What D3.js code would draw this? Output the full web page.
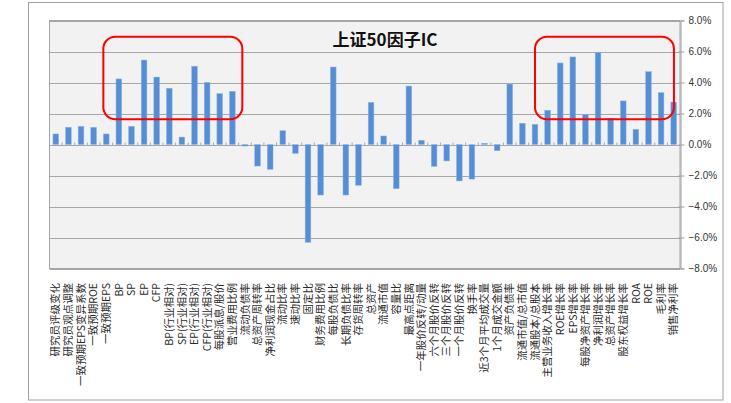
<!DOCTYPE html>
<html><head><meta charset="utf-8">
<script src="https://cdn.jsdelivr.net/npm/d3@7"></script>
<style>body{margin:0;background:#fff}svg{display:block}</style>
</head><body>
<svg id="c" width="731" height="403"></svg>
<script>
const categories = ["研究员评级变化","研究员观点调整","一致预期EPS变异系数","一致预期ROE","一致预期EPS","BP","SP","EP","CFP","BP(行业相对)","SP(行业相对)","EP(行业相对)","CFP(行业相对)","每股派息/股价","营业费用比例","流动负债率","总资产周转率","净利润现金占比","流动比率","速动比率","固定比","财务费用比例","每股负债比","长期负债比率","存货周转率","总资产","流通市值","容量比","最高点距离","一年股价反转/动量","六个月股价反转","三个月股价反转","一个月股价反转","换手率","近3个月平均成交量","1个月成交金额","资产负债率","流通市值/总市值","流通股本/总股本","主营业务收入增长率","ROE增长率","EPS增长率","每股净资产增长率","净利润增长率","总资产增长率","股东权益增长率","ROA","ROE","毛利率","销售净利率"];
const icValues = [0.68,1.11,1.17,1.11,0.68,4.23,1.17,5.45,4.35,3.63,0.48,5.05,4.01,3.28,3.43,-0.10,-1.39,-1.60,0.89,-0.57,-6.31,-3.26,5.00,-3.26,-2.63,2.72,0.55,-2.85,3.77,0.27,-1.41,-1.06,-2.35,-2.23,0.08,-0.40,3.90,1.37,1.30,2.21,5.26,5.65,1.95,5.95,1.69,2.81,0.98,4.70,3.34,2.74];
const yTicks = [8,6,4,2,0,-2,-4,-6,-8];
const title = "上证50因子IC";
// highlight boxes in category units: [from, to, top %, bottom %]
const highlights = [[4.27,15.29,6.95,1.63],[38.5,49.52,6.95,1.63]];

const svg = d3.select("#c");
const L = 49.5, R = 680, T = 20.5, B = 268.5;
const x = d3.scaleBand().domain(categories).range([L, R]).paddingInner(0.55).paddingOuter(0.275);
const xb = d3.scaleBand().domain(categories).range([L, R]);
const xu = d3.scaleLinear().domain([0, categories.length]).range([L, R]);
const y = d3.scaleLinear().domain([-8, 8]).range([B, T]);

// outer frame
svg.append("rect").attr("x",28.5).attr("y",2.5).attr("width",694.5).attr("height",397.5)
  .attr("fill","#fff").attr("stroke","#a0a0a0").attr("stroke-width",1);
// plot background
svg.append("rect").attr("x",L).attr("y",T).attr("width",R-L).attr("height",B-T)
  .attr("fill","#f2f2f2").attr("stroke","#a6a6a6").attr("stroke-width",1);
// gridlines
svg.append("g").selectAll("line").data(yTicks).join("line")
  .attr("x1",L).attr("x2",R).attr("y1",d=>Math.round(y(d))+0.5).attr("y2",d=>Math.round(y(d))+0.5)
  .attr("stroke","#a6a6a6").attr("stroke-width",1.2);

// bars
svg.append("g").selectAll("rect").data(icValues).join("rect")
  .attr("x",(d,i)=>x(categories[i]))
  .attr("width",x.bandwidth())
  .attr("y",d=>y(Math.max(0,d)))
  .attr("height",d=>Math.abs(y(d)-y(0)))
  .attr("fill","#558ed5").attr("stroke","#8fb4e3").attr("stroke-width",0.5);

// zero-line category ticks
const y0 = Math.round(y(0))+0.5;
svg.append("g").selectAll("line").data(categories.slice(1)).join("line")
  .attr("x1",d=>xb(d)).attr("x2",d=>xb(d)).attr("y1",y0).attr("y2",y0-3)
  .attr("stroke","#a6a6a6").attr("stroke-width",1);

// right axis
const ax = svg.append("g").attr("transform",`translate(${R+0.5},0)`)
  .call(d3.axisRight(y).tickValues(yTicks).tickSize(4).tickPadding(4).tickFormat(d=>d3.format(".1f")(d)+"%"));
ax.select(".domain").attr("stroke","#a0a0a0");
ax.selectAll(".tick line").attr("stroke","#a0a0a0").attr("x1",-2);
ax.selectAll("text").attr("font-family","Arial, 'Liberation Sans', sans-serif").attr("font-size",10).attr("fill","#333");

// category labels
svg.append("g").selectAll("text").data(categories).join("text")
  .attr("transform",d=>`translate(${xb(d)+xb.bandwidth()/2},283) rotate(-90)`)
  .attr("text-anchor","end").attr("dy","0.35em")
  .attr("font-family","'Noto Sans CJK SC', sans-serif").attr("font-size",10.5).attr("fill","#2a2a2a")
  .text(d=>d);

// title
svg.append("text").attr("x",385).attr("y",46).attr("text-anchor","middle")
  .attr("font-family","'Noto Sans CJK SC', sans-serif").attr("font-weight","bold").attr("font-size",17).attr("fill","#111")
  .text(title);

// highlight boxes
svg.append("g").selectAll("rect").data(highlights).join("rect")
  .attr("x",d=>xu(d[0]))
  .attr("y",d=>y(d[2]))
  .attr("width",d=>xu(d[1])-xu(d[0]))
  .attr("height",d=>y(d[3])-y(d[2]))
  .attr("rx",12).attr("ry",12)
  .attr("fill","none").attr("stroke","#ff0000").attr("stroke-width",2);
</script>
</body></html>
